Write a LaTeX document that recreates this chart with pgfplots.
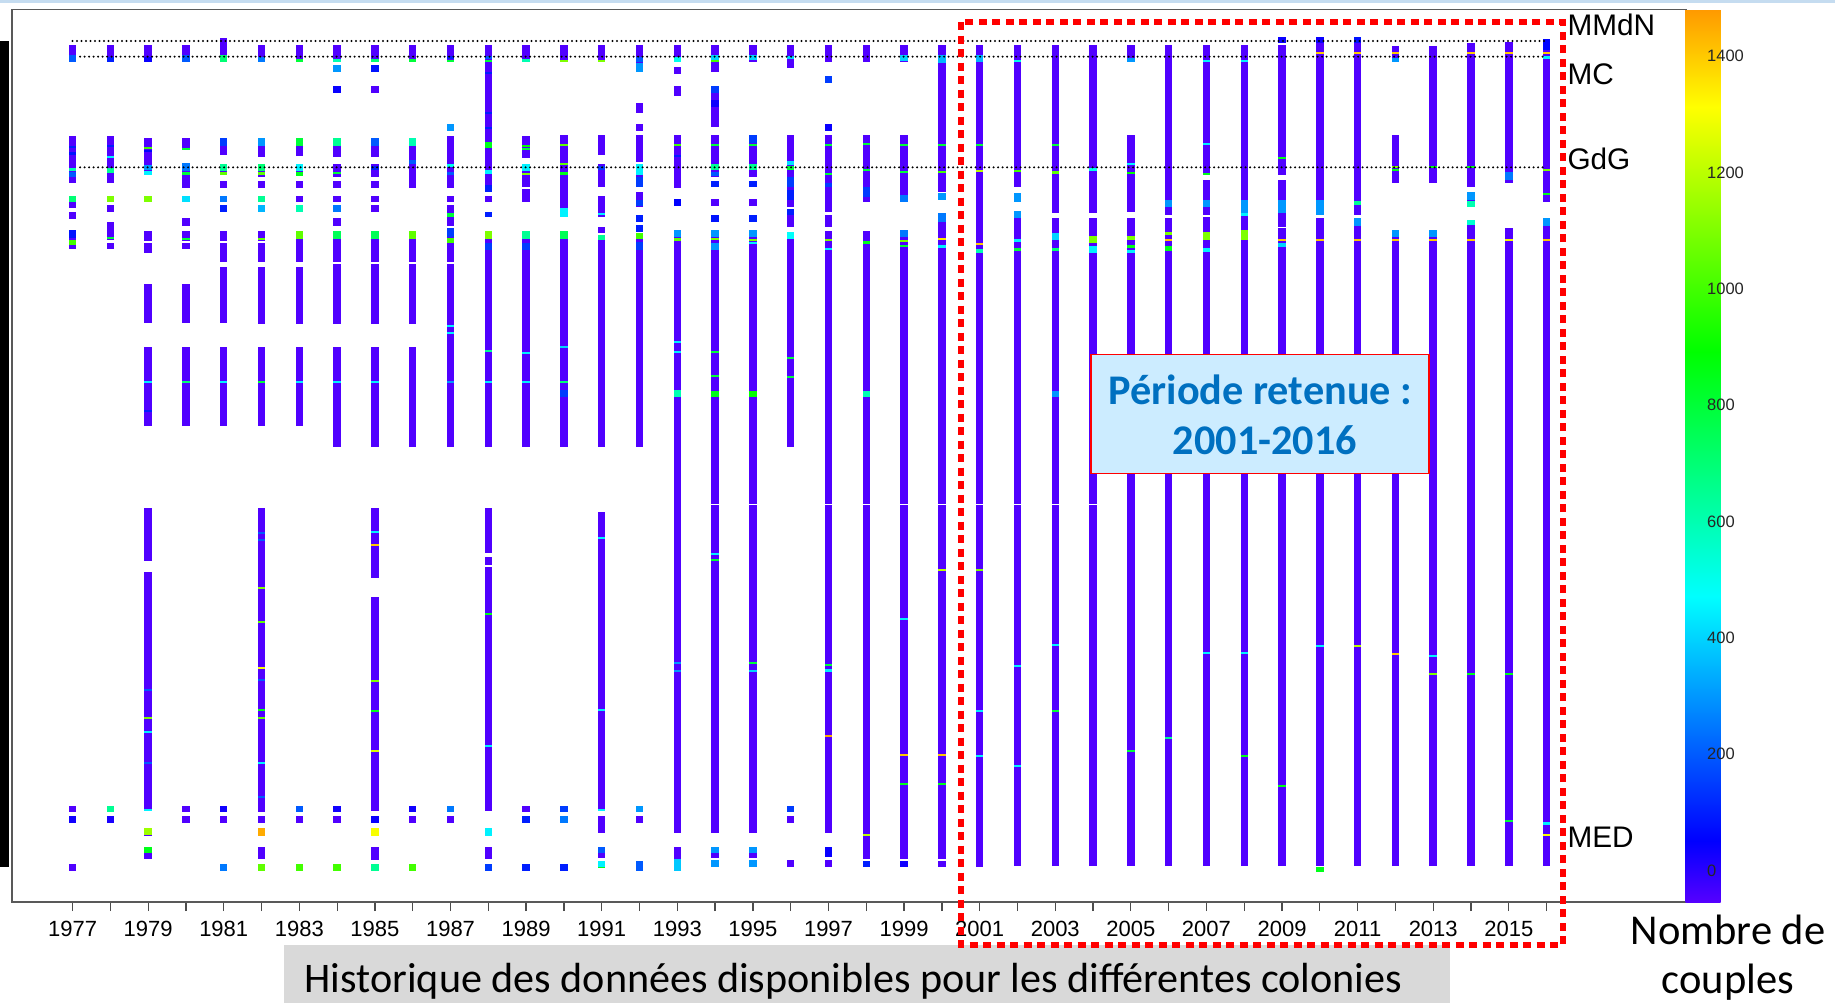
\documentclass[border=0pt]{standalone}
\usepackage{pgfplots}
\usepackage{pgfplotstable}
\pgfplotsset{compat=1.18}
\usepackage{fontspec}
\setmainfont{Liberation Sans}
\newfontfamily\calib{Carlito}
\definecolor{purp}{RGB}{80,0,255}
\definecolor{tblue}{RGB}{0,112,192}
\definecolor{boxblue}{RGB}{204,236,255}
\definecolor{boxgray}{RGB}{217,217,217}
\definecolor{topblue}{RGB}{197,220,240}
\begin{document}
\pgfplotstableread{
x a b
1977 45 62
1977 136 183
1977 196 208
1977 212 219
1977 230 249
1977 806 812
1977 816 823
1977 864 871
1978 45 62
1978 136 183
1978 196 202
1978 205 212
1978 222 240
1978 243 249
1978 806 812
1978 816 823
1979 45 62
1979 138 175
1979 196 202
1979 231 241
1979 243 253
1979 284 323
1979 347 426
1979 508 561
1979 572 811
1979 828 836
1979 847 859
1980 45 62
1980 138 149
1980 163 188
1980 196 202
1980 218 226
1980 231 241
1980 243 249
1980 284 323
1980 347 426
1980 806 812
1980 816 823
1981 38 62
1981 138 155
1981 164 175
1981 181 188
1981 196 202
1981 205 212
1981 231 241
1981 243 262
1981 267 323
1981 347 426
1981 806 812
1981 816 823
1981 864 871
1982 45 62
1982 138 157
1982 164 177
1982 181 188
1982 196 202
1982 205 212
1982 231 241
1982 243 262
1982 267 324
1982 347 426
1982 508 812
1982 816 823
1982 828 836
1982 847 859
1982 864 871
1983 45 62
1983 138 156
1983 164 176
1983 181 188
1983 196 202
1983 205 212
1983 231 262
1983 267 324
1983 347 426
1983 806 812
1983 816 823
1983 864 871
1984 45 62
1984 65 72
1984 86 93
1984 138 157
1984 164 177
1984 181 188
1984 196 202
1984 205 212
1984 218 226
1984 231 262
1984 264 324
1984 347 447
1984 806 812
1984 816 823
1984 864 871
1985 45 62
1985 65 72
1985 86 93
1985 138 157
1985 164 177
1985 181 188
1985 196 202
1985 205 212
1985 231 262
1985 264 324
1985 347 447
1985 508 578
1985 597 811
1985 816 823
1985 828 836
1985 847 860
1985 864 871
1986 45 62
1986 138 188
1986 231 262
1986 264 324
1986 347 447
1986 806 812
1986 816 823
1986 864 871
1987 45 62
1987 124 131
1987 136 188
1987 196 202
1987 205 226
1987 228 262
1987 264 447
1987 806 812
1987 816 823
1988 45 192
1988 196 202
1988 212 217
1988 231 447
1988 508 553
1988 557 565
1988 567 811
1988 828 836
1988 847 859
1988 864 871
1989 45 62
1989 136 158
1989 164 187
1989 189 202
1989 231 447
1989 806 812
1989 816 823
1989 864 871
1990 45 62
1990 135 217
1990 231 447
1990 806 812
1990 816 823
1990 864 871
1991 45 62
1991 135 155
1991 164 187
1991 196 217
1991 227 233
1991 235 447
1991 512 811
1991 816 833
1991 847 858
1991 861 868
1992 45 72
1992 103 113
1992 124 131
1992 135 162
1992 164 187
1992 192 207
1992 215 222
1992 225 232
1992 233 447
1992 806 812
1992 816 823
1992 861 871
1993 45 62
1993 67 74
1993 86 96
1993 135 188
1993 199 206
1993 230 833
1993 847 871
1994 45 72
1994 86 127
1994 135 177
1994 181 187
1994 199 206
1994 215 222
1994 230 504
1994 505 833
1994 847 858
1994 860 867
1995 45 62
1995 135 177
1995 181 187
1995 199 206
1995 215 222
1995 230 504
1995 505 833
1995 847 858
1995 860 867
1996 45 68
1996 135 207
1996 209 227
1996 232 447
1996 806 812
1996 816 823
1996 860 867
1997 45 62
1997 76 83
1997 124 131
1997 135 212
1997 215 227
1997 231 504
1997 505 833
1997 847 857
1997 860 867
1998 45 62
1998 135 202
1998 231 504
1998 505 859
1998 861 867
1999 45 62
1999 135 202
1999 230 504
1999 505 859
1999 861 867
2000 45 192
2000 193 200
2000 213 504
2000 505 859
2000 861 867
2001 45 504
2001 505 867
2002 45 187
2002 193 202
2002 211 504
2002 505 866
2003 45 213
2003 218 504
2003 505 866
2004 45 213
2004 218 504
2004 505 866
2005 45 62
2005 135 212
2005 218 866
2006 45 215
2006 218 866
2007 45 175
2007 180 215
2007 217 866
2008 45 866
2009 37 43
2009 45 175
2009 180 227
2009 228 866
2010 37 215
2010 218 866
2011 37 215
2011 218 866
2012 46 62
2012 135 183
2012 230 866
2013 46 183
2013 230 866
2014 43 187
2014 192 207
2014 220 866
2015 42 183
2015 228 866
2016 39 202
2016 218 866
}\bars
\pgfplotstableread{
x a b c
1977 55 62 200
1977 146 148 100
1977 152 155 80
1977 168 171 600
1977 172 177 200
1977 196 202 700
1977 230 238 80
1977 240 245 1000
1977 816 823 30
1978 57 62 100
1978 145 147 100
1978 156 158 450
1978 168 173 650
1978 196 202 1100
1978 237 239 800
1978 806 812 650
1978 816 823 20
1979 57 62 40
1979 147 149 1000
1979 150 152 60
1979 165 170 300
1979 171 175 450
1979 196 202 1100
1979 381 383 450
1979 410 412 100
1979 689 691 200
1979 717 719 1100
1979 731 733 450
1979 762 764 200
1979 809 811 450
1979 828 835 1150
1979 847 853 850
1980 55 62 200
1980 148 150 800
1980 163 171 250
1980 172 175 800
1980 196 202 420
1980 238 240 800
1980 381 383 700
1981 55 62 700
1981 138 146 150
1981 164 171 650
1981 172 175 1050
1981 196 202 250
1981 205 212 100
1981 381 383 450
1981 806 812 30
1981 864 871 250
1982 57 62 250
1982 138 146 300
1982 164 171 700
1982 172 175 1050
1982 196 202 650
1982 205 212 350
1982 238 240 1050
1982 381 383 800
1982 532 534 200
1982 539 541 200
1982 587 589 1100
1982 621 623 1050
1982 667 669 1300
1982 679 681 200
1982 709 711 850
1982 717 719 1050
1982 762 764 450
1982 796 798 200
1982 828 836 1450
1982 864 871 1050
1983 59 62 800
1983 138 146 800
1983 164 171 450
1983 172 176 850
1983 205 212 600
1983 231 239 1050
1983 381 383 450
1983 806 812 200
1983 864 871 1000
1984 59 62 600
1984 65 72 300
1984 86 93 40
1984 138 146 650
1984 172 174 800
1984 205 212 250
1984 231 239 750
1984 381 383 450
1984 806 812 30
1984 864 871 1000
1985 59 62 700
1985 65 72 80
1985 138 146 200
1985 166 170 100
1985 231 239 750
1985 381 383 450
1985 531 533 450
1985 544 546 1400
1985 680 682 1100
1985 710 712 850
1985 750 752 1250
1985 816 823 40
1985 828 836 1300
1985 864 871 650
1986 59 62 800
1986 138 146 600
1986 160 164 200
1986 231 239 1050
1986 806 812 30
1986 864 871 1000
1987 56 59 100
1987 60 62 800
1987 124 131 300
1987 164 167 500
1987 172 175 200
1987 213 217 800
1987 228 237 150
1987 238 243 1000
1987 325 327 450
1987 332 334 450
1987 381 383 300
1987 806 812 250
1988 56 59 200
1988 60 62 800
1988 72 74 100
1988 112 114 100
1988 127 129 100
1988 142 148 850
1988 170 174 450
1988 185 192 100
1988 212 217 100
1988 231 239 1100
1988 243 250 150
1988 350 352 650
1988 381 383 450
1988 613 615 850
1988 745 747 450
1988 828 836 450
1988 864 871 150
1989 59 62 600
1989 145 147 900
1989 148 150 800
1989 164 171 450
1989 173 175 1100
1989 231 239 650
1989 243 250 150
1989 352 354 450
1989 381 383 450
1989 816 823 100
1989 864 871 100
1990 60 62 1100
1990 144 146 1050
1990 163 165 1050
1990 172 175 850
1990 208 217 450
1990 231 239 750
1990 346 348 400
1990 381 383 700
1990 390 397 150
1990 806 812 150
1990 816 823 250
1990 864 871 100
1991 60 62 1100
1991 166 170 150
1991 213 215 450
1991 235 240 650
1991 537 539 450
1991 709 711 450
1991 809 811 450
1991 847 853 200
1991 861 867 450
1991 867 868 850
1992 57 62 200
1992 63 72 300
1992 164 175 450
1992 177 187 150
1992 200 206 150
1992 215 222 100
1992 225 232 100
1992 233 239 1000
1992 242 250 150
1992 806 812 300
1992 861 871 200
1993 57 62 500
1993 144 146 1000
1993 155 157 100
1993 199 206 50
1993 230 237 300
1993 238 241 1050
1993 341 343 450
1993 351 353 450
1993 390 397 600
1993 662 664 300
1993 670 672 300
1993 859 871 380
1994 55 60 400
1994 60 62 1000
1994 86 93 150
1994 100 107 40
1994 144 146 800
1994 164 170 650
1994 172 176 200
1994 181 187 100
1994 215 222 80
1994 230 237 300
1994 238 240 1100
1994 243 250 300
1994 351 353 800
1994 375 377 800
1994 391 397 850
1994 553 555 450
1994 559 561 800
1994 847 853 300
1994 860 867 300
1995 55 60 400
1995 135 143 150
1995 144 146 800
1995 164 170 650
1995 181 187 100
1995 215 222 100
1995 230 237 300
1995 239 241 1100
1995 242 244 450
1995 391 397 900
1995 662 664 800
1995 670 672 400
1995 847 853 300
1995 860 867 300
1996 56 59 400
1996 161 165 420
1996 166 170 800
1996 177 187 150
1996 190 200 100
1996 209 215 100
1996 232 239 480
1996 357 359 800
1996 376 378 800
1996 806 812 150
1997 76 83 150
1997 124 131 40
1997 144 146 800
1997 173 175 800
1997 183 187 150
1997 239 241 1100
1997 248 250 450
1997 664 666 800
1997 669 672 450
1997 735 737 1450
1997 847 857 40
1998 143 145 800
1998 169 171 800
1998 187 197 150
1998 241 244 850
1998 391 397 600
1998 834 836 1200
1998 861 867 100
1999 55 61 400
1999 144 146 800
1999 171 173 800
1999 195 202 250
1999 230 237 250
1999 240 242 1100
1999 245 247 800
1999 618 620 450
1999 754 756 1400
1999 783 785 850
1999 861 867 30
2000 55 63 350
2000 144 146 800
2000 171 173 1000
2000 193 200 300
2000 213 222 250
2000 238 240 1350
2000 245 248 450
2000 569 571 1200
2000 754 756 1400
2000 783 785 850
2001 55 62 350
2001 144 146 800
2001 170 172 1200
2001 243 245 1400
2001 249 253 600
2001 569 571 1100
2001 710 712 450
2001 755 757 450
2002 60 62 500
2002 170 172 1000
2002 193 202 300
2002 211 218 300
2002 239 242 450
2002 248 251 800
2002 665 667 450
2002 765 767 450
2003 144 146 800
2003 171 174 1050
2003 233 240 400
2003 248 251 700
2003 391 397 300
2003 644 646 450
2003 710 712 800
2004 168 171 500
2004 236 243 1100
2004 246 253 450
2005 58 62 300
2005 163 165 450
2005 172 174 900
2005 236 240 1100
2005 245 248 850
2005 250 253 450
2005 750 752 800
2006 200 207 300
2006 232 235 1100
2006 239 241 1400
2006 246 251 850
2006 737 739 650
2007 60 62 450
2007 143 145 450
2007 173 175 850
2007 200 207 300
2007 232 240 1100
2007 248 252 450
2007 652 654 450
2008 60 62 450
2008 200 213 300
2008 213 216 450
2008 230 240 1100
2008 652 654 450
2008 755 757 850
2009 37 43 40
2009 157 159 850
2009 200 213 300
2009 239 241 1400
2009 243 247 400
2009 785 787 850
2010 37 43 40
2010 52 54 1400
2010 200 215 300
2010 239 241 1400
2010 645 647 450
2010 867 872 850
2011 37 43 80
2011 52 54 1400
2011 201 205 650
2011 218 226 300
2011 239 241 1400
2011 645 647 1200
2012 52 54 1400
2012 58 62 300
2012 166 168 1100
2012 169 171 850
2012 230 237 300
2012 239 241 1400
2012 653 655 1400
2013 166 168 850
2013 230 237 300
2013 239 241 1400
2013 655 657 450
2013 673 675 1100
2014 52 54 1400
2014 166 168 850
2014 192 200 300
2014 201 207 600
2014 220 225 550
2014 239 241 1400
2014 673 675 850
2015 52 54 1400
2015 172 180 250
2015 239 241 1300
2015 673 675 850
2015 820 822 800
2016 39 50 60
2016 52 54 1400
2016 56 59 450
2016 169 171 1100
2016 193 195 850
2016 218 226 300
2016 239 241 1400
2016 822 825 450
2016 834 836 1300
}\spots
\begin{tikzpicture}
\begin{axis}[
  at={(4.68pt,40.4pt)}, anchor=south west,
  width=669.6pt, height=357.04pt, scale only axis,
  xmin=1975.39, xmax=2019.68, ymin=9.4, ymax=902, y dir=reverse,
  clip=false,
  axis line style={draw=black!65, line width=0.7pt},
  ytick=\empty,
  xtick={1977,1979,...,2015}, minor xtick={1978,1980,...,2016},
  tick align=outside, xtick pos=bottom,
  major tick length=3.6pt, minor tick length=3.6pt,
  tick style={black!70, line width=0.5pt},
  xticklabel style={font=\fontsize{8.8}{10}\selectfont, yshift=-0.6pt},
  /pgf/number format/1000 sep={}, /pgf/number format/assume math mode=true,
  colormap={rb}{rgb255(0pt)=(85,0,255); rgb255(105pt)=(0,0,255); rgb255(525pt)=(0,255,255); rgb255(946pt)=(0,255,0); rgb255(1366pt)=(255,255,0); rgb255(1534pt)=(255,153,0)},
  point meta min=-54, point meta max=1480,
  colorbar,
  colorbar style={at={(parent axis.north east)}, anchor=north west, xshift=-0.3cm,
    width=14pt, height=357.04pt, scale only axis,
    ytick={0,200,...,1400},
    yticklabel style={font=\fontsize{6.6}{7.5}\selectfont, anchor=west, inner sep=0pt, xshift=-5.6pt, text=black!85},
    major tick length=0pt, axis line style={draw=none},
    /pgf/number format/assume math mode=true, /pgf/number format/1000 sep={}},
]
\addplot[purp, line width=3pt, quiver={u=0, v=\thisrow{b}-\thisrow{a}}] table[x=x, y=a] {\bars};
\addplot[line width=3pt, point meta=\thisrow{c}, quiver={u=0, v=\thisrow{b}-\thisrow{a}, colored=mapped color}] table[x=x, y=a] {\spots};
% dotted reference lines
\addplot[black, line width=0.9pt, line cap=round, dash pattern=on 0pt off 1.8pt] coordinates {(1977,41) (2016,41)};
\addplot[black, line width=0.9pt, line cap=round, dash pattern=on 0pt off 1.8pt] coordinates {(1977.2,56.7) (2016,56.7)};
\addplot[black, line width=0.9pt, line cap=round, dash pattern=on 0pt off 1.8pt] coordinates {(1977.2,167.3) (2016,167.3)};
% colony labels
\node[anchor=west, inner sep=0pt, font=\fontsize{11.9}{13}\selectfont] at (axis cs:2016.54,25) {MMdN};
\node[anchor=west, inner sep=0pt, font=\fontsize{11.9}{13}\selectfont] at (axis cs:2016.54,74) {MC};
\node[anchor=west, inner sep=0pt, font=\fontsize{11.9}{13}\selectfont] at (axis cs:2016.54,159) {GdG};
\node[anchor=west, inner sep=0pt, font=\fontsize{11.9}{13}\selectfont] at (axis cs:2016.54,837) {MED};
% decorations outside
\fill[black] (axis cs:1975.082,41) rectangle (axis cs:1975.32,867);
\fill[topblue] (axis cs:1975.08,0) rectangle (axis cs:2023.64,3.2);
\fill[boxgray] (axis cs:1982.60,945) rectangle (axis cs:2013.44,1004);
\node[anchor=base west, inner sep=0pt, font=\calib\fontsize{16.85}{20}\selectfont] at (axis cs:1983.13,992) {Historique des données disponibles pour les différentes colonies};
\node[anchor=base, inner sep=0pt, font=\calib\fontsize{17}{20}\selectfont] at (axis cs:2020.80,944) {Nombre de};
\node[anchor=base, inner sep=0pt, font=\calib\fontsize{17}{20}\selectfont] at (axis cs:2020.80,993) {couples};
% red dotted frame
\draw[red, line width=2.4pt, dash pattern=on 3.2pt off 2.2pt] (axis cs:2000.51,22) rectangle (axis cs:2016.43,945);
% text box
\draw[draw=red, fill=boxblue, line width=0.6pt] (axis cs:2003.95,354.3) rectangle (axis cs:2012.89,473.3);
\node[anchor=base, inner sep=0pt, text=tblue, font=\calib\bfseries\fontsize{16.9}{20}\selectfont] at (axis cs:2008.43,404) {Période retenue :};
\node[anchor=base, inner sep=0pt, text=tblue, font=\calib\bfseries\fontsize{16.9}{20}\selectfont] at (axis cs:2008.55,454) {2001-2016};
\end{axis}
\pgfresetboundingbox
\path (0,0) rectangle (734pt,401.2pt);
\end{tikzpicture}
\end{document}
